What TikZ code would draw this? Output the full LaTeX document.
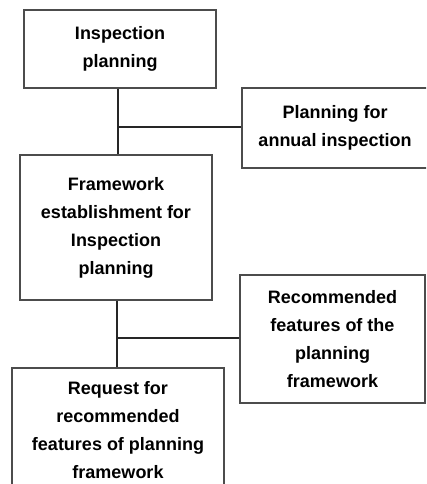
\documentclass[tikz,border=0pt]{standalone}
\usepackage{fontspec}
\setmainfont{Liberation Sans}
\usetikzlibrary{positioning, calc}

\begin{document}
\begin{tikzpicture}[
  x=1pt, y=-1pt,
  every node/.style={font=\fontsize{18}{28}\selectfont\bfseries},
  planbox/.style={draw=black!70, line width=1.1pt, fill=white, align=center,
    inner sep=0pt, anchor=center},
  link/.style={draw=black!85, line width=1.9pt}
]
\clip (0,0) rectangle (426,484);
\useasboundingbox (0,0) rectangle (426,484);
% Boxes
\node[planbox, minimum width=192pt, minimum height=78pt] (insp) at (120,49)
  {Inspection\\planning};
\node[planbox, minimum width=186pt, minimum height=80pt] (annual) at (335,128)
  {Planning for\\annual inspection};
\node[planbox, minimum width=192pt, minimum height=145pt] (frame) at (116,227.5)
  {Framework\\establishment for\\Inspection\\planning};
\node[planbox, minimum width=185pt, minimum height=128pt] (recom) at (332.5,339)
  {Recommended\\features of the\\planning\\framework};
\node[planbox, minimum width=212pt, minimum height=124pt] (req) at (118,430)
  {Request for\\recommended\\features of planning\\framework};
% Junctions
\coordinate (j1) at (118,127);
\coordinate (j2) at (117,338);
% Connecting lines
\draw[link] (insp.south -| j1) -- (frame.north -| j1);
\draw[link] (j1) -- (j1 -| annual.west);
\draw[link] (frame.south -| j2) -- (req.north -| j2);
\draw[link] (j2) -- (j2 -| recom.west);
\end{tikzpicture}
\end{document}
